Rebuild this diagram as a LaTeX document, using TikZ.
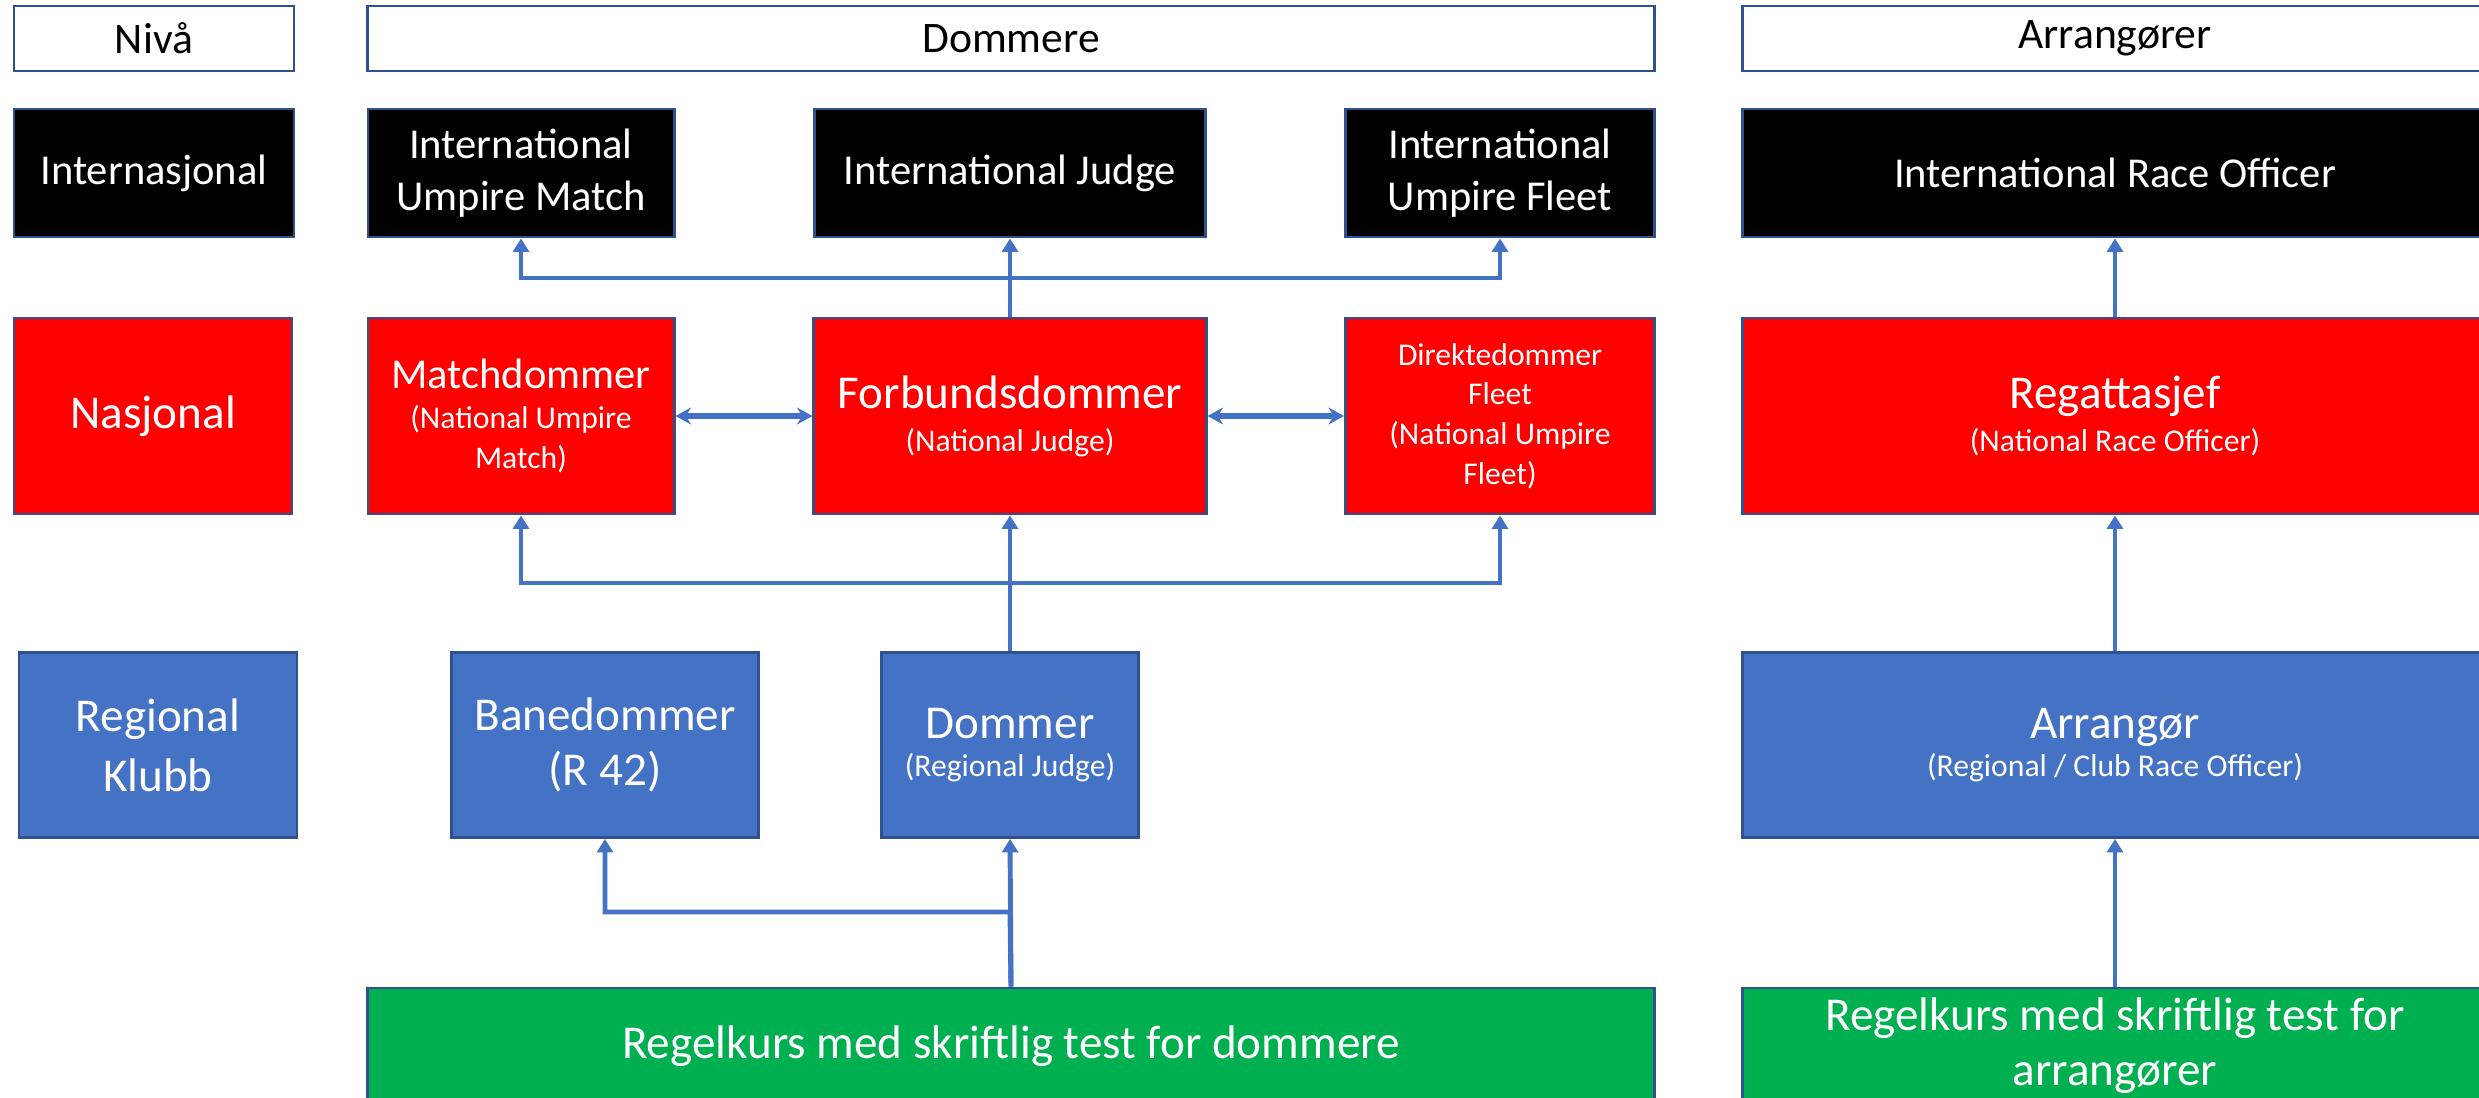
\documentclass[tikz,border=0pt]{standalone}
\usepackage{fontspec}
\setmainfont{Carlito}
\usetikzlibrary{arrows.meta}

\definecolor{edgeblue}{HTML}{2F528F}
\definecolor{lineblue}{HTML}{4472C4}
\definecolor{boxred}{HTML}{FF0000}
\definecolor{boxblue}{HTML}{4472C4}
\definecolor{boxgreen}{HTML}{00B050}

\newcommand{\bigtxt}[1]{{\fontsize{13.4}{16}\selectfont #1}}
\newcommand{\midtxt}[1]{{\fontsize{12.1}{14.8}\selectfont #1}}

\begin{document}
\begin{tikzpicture}[x=0.01cm, y=-0.01cm, >={Triangle[width=4.5pt,length=3.8pt]}]

\tikzstyle{box}=[rectangle, draw=edgeblue, line width=0.8pt, align=center, text=white, inner sep=1pt]
\tikzstyle{headbox}=[box, fill=white, text=black, minimum height=0.65cm, font=\fontsize{12.4}{15}\selectfont]
\tikzstyle{intbox}=[box, fill=black, minimum height=1.28cm, font=\fontsize{12.1}{14.8}\selectfont]
\tikzstyle{natbox}=[box, fill=boxred, minimum height=1.96cm, font=\fontsize{9}{11.3}\selectfont]
\tikzstyle{regbox}=[box, fill=boxblue, minimum height=1.85cm, font=\fontsize{9}{11.3}\selectfont]
\tikzstyle{kursbox}=[box, fill=boxgreen, minimum height=1.16cm, font=\fontsize{13.4}{15.6}\selectfont]
\tikzstyle{arrow}=[->, draw=lineblue, line width=1.4pt]
\tikzstyle{biarrow}=[{Stealth[width=4.8pt,length=4.4pt]}-{Stealth[width=4.8pt,length=4.4pt]}, draw=lineblue, line width=1.7pt]

\useasboundingbox (0,0) rectangle (2479,1097);

\node (niva) [headbox, minimum width=2.8cm] at (154,38.5) {Nivå};
\node (domhead) [headbox, minimum width=12.86cm] at (1011,38.5) {Dommere};
\node (arrhead) [headbox, minimum width=7.44cm] at (2115,38.5) {Arrangører};

\node (intniva) [intbox, minimum width=2.8cm] at (154,173) {Internasjonal};
\node (intmatch) [intbox, minimum width=3.06cm] at (521,173) {International\\Umpire Match};
\node (intjudge) [intbox, minimum width=3.9cm] at (1010,173) {International Judge};
\node (intfleet) [intbox, minimum width=3.09cm] at (1500,173) {International\\Umpire Fleet};
\node (intrace) [intbox, minimum width=7.44cm] at (2115,173) {International Race Officer};

\node (natniva) [natbox, minimum width=2.78cm] at (153,416) {\bigtxt{Nasjonal}};
\node (matchd) [natbox, minimum width=3.06cm] at (521,416) {\midtxt{Matchdommer}\\(National Umpire\\Match)};
\node (forbund) [natbox, minimum width=3.92cm] at (1010,416) {\bigtxt{Forbundsdommer}\\[1pt](National Judge)};
\node (direkte) [natbox, minimum width=3.09cm] at (1500,416) {Direktedommer\\Fleet\\(National Umpire\\Fleet)};
\node (regatta) [natbox, minimum width=7.44cm] at (2115,416) {\bigtxt{Regattasjef}\\[1pt](National Race Officer)};

\node (regniva) [regbox, minimum width=2.78cm] at (158,745) {\bigtxt{Regional}\\[4.5pt]\bigtxt{Klubb}};
\node (bane) [regbox, minimum width=3.07cm] at (605,745) {\bigtxt{Banedommer}\\[4.5pt]\bigtxt{(R 42)}};
\node (dommer) [regbox, minimum width=2.57cm] at (1010,745) {\bigtxt{Dommer}\\[-0.3pt](Regional Judge)};
\node (arr) [regbox, minimum width=7.44cm] at (2115,745) {\bigtxt{Arrangør}\\[-0.3pt](Regional / Club Race Officer)};

\node (kursd) [kursbox, minimum width=12.86cm] at (1011,1046) {Regelkurs med skriftlig test for dommere};
\node (kursa) [kursbox, minimum width=7.44cm] at (2115,1046) {Regelkurs med skriftlig test for\\arrangører};

\coordinate (topbar) at (1010,278);
\coordinate (midbar) at (1010,583);
\coordinate (lowbar) at (1010,912);

\draw [arrow] (forbund.north) -- (intjudge.south);
\draw [arrow] (forbund.north) -- (topbar) -| (intmatch.south);
\draw [arrow] (forbund.north) -- (topbar) -| (intfleet.south);

\draw [biarrow] (matchd.east) -- (forbund.west);
\draw [biarrow] (forbund.east) -- (direkte.west);

\draw [arrow] (dommer.north) -- (forbund.south);
\draw [arrow] (dommer.north) -- (midbar) -| (matchd.south);
\draw [arrow] (dommer.north) -- (midbar) -| (direkte.south);

\draw [arrow] (kursd.north) -- (dommer.south);
\draw [arrow] (kursd.north) -- (lowbar) -| (bane.south);

\draw [arrow] (kursa) -- (arr);
\draw [arrow] (arr) -- (regatta);
\draw [arrow] (regatta) -- (intrace);

\end{tikzpicture}
\end{document}
